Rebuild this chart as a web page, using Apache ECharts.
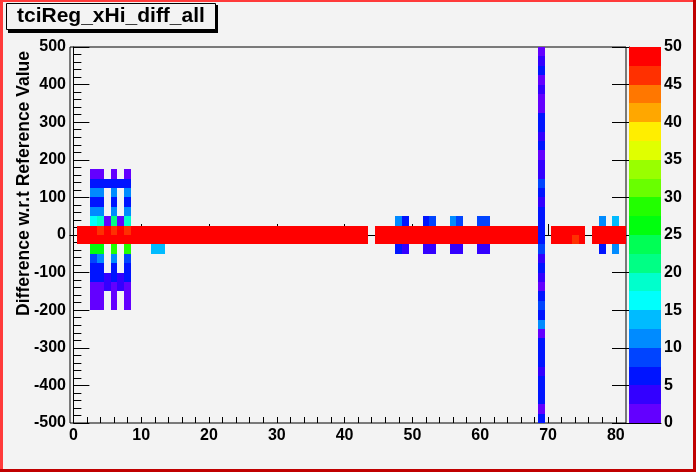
<!DOCTYPE html>
<html><head><meta charset="utf-8">
<script src="https://cdn.jsdelivr.net/npm/echarts@6/dist/echarts.min.js"></script>
<style>html,body{margin:0;padding:0;background:#f3f3f3}#c{width:696px;height:472px}</style>
</head><body><div id="c"></div><script>
// ---------- data ----------
const X_MIN = -0.5, X_MAX = 81.5;      // channel axis (82 bins centred on integers)
const Y_MIN = -500, Y_MAX = 500, Y_BIN = 25;
const Z_MAX = 50, Z_STEP = 2.5;
const xTickValues = [0, 10, 20, 30, 40, 50, 60, 70, 80];
const xMinorTickValues = [0,2,4,6,8,10,12,14,16,18,20,22,24,26,28,30,32,34,36,38,40,42,44,46,48,50,52,54,56,58,60,62,64,66,68,70,72,74,76,78,80];
const zLevels = [0,2.5,5,7.5,10,12.5,15,17.5,20,22.5,25,27.5,30,32.5,35,37.5,40,42.5,45,47.5];
const paletteColors = ['#6300ff','#3300ff','#0014ff','#0044ff','#008bff','#00bbff','#00fffc','#00ffcc','#00ff85','#00ff55',
                       '#00ff0e','#22ff00','#69ff00','#99ff00','#e0ff00','#ffee00','#ffa700','#ff7700','#ff3000','#ff0000'];

// counts in the bin [0,25] for channels 0..81
const bandUpper = [0,50,50,50,46,50,46,50,46,50, 50,50,50,50,50,50,50,50,50,50, 50,50,50,50,50,50,50,50,50,50,
                   50,50,50,50,50,50,50,50,50,50, 50,50,50,50,0,50,50,50,50,50, 50,50,50,50,50,50,50,50,50,50,
                   50,50,50,50,50,50,50,50,50,0, 0,50,50,50,50,50,0,50,50,50, 50,50];
// counts in the bin [-25,0] for channels 0..81
const bandLower = [0,50,50,50,50,50,50,50,50,50, 50,50,50,50,50,50,50,50,50,50, 50,50,50,50,50,50,50,50,50,50,
                   50,50,50,50,50,50,50,50,50,50, 50,50,50,50,0,50,50,50,50,50, 50,50,50,50,50,50,50,50,50,50,
                   50,50,50,50,50,50,50,50,50,0, 0,50,50,50,46,50,0,50,50,50, 50,50];
// channel 69: counts for y bins from -500 (bottom) to 475 (top)
const channel69 = [6,1,6,6,6,4,6,6,6,1, 11,6,9,6,1,4,6,4,9,6, 6,6,6,4,6,9,4,4,1,6, 4,6,6,1,1,4,1,6,4,1];
// [channel, lower y edge, count]
const leftCluster = [
  [3,150,1],[3,125,6],[3,100,11],[3,75,6],[3,50,11],[3,25,16],[3,-50,26],[3,-75,9],[3,-100,6],[3,-125,6],[3,-150,1],[3,-175,1],[3,-200,1],
  [4,150,1],[4,125,6],[4,100,11],[4,75,6],[4,50,11],[4,25,19],[4,-50,26],[4,-75,11],[4,-100,6],[4,-125,6],[4,-150,1],[4,-175,1],[4,-200,1],
  [5,125,6],[5,25,1],[5,-125,4],[5,-150,4],
  [6,150,1],[6,125,6],[6,100,11],[6,75,6],[6,50,11],[6,25,21],[6,-50,28],[6,-75,11],[6,-100,6],[6,-125,6],[6,-150,1],[6,-175,1],[6,-200,1],
  [7,125,6],[7,25,1],[7,-125,4],[7,-150,4],
  [8,150,1],[8,125,6],[8,100,11],[8,75,6],[8,50,11],[8,25,19],[8,-50,29],[8,-75,9],[8,-100,6],[8,-125,6],[8,-150,1],[8,-175,1],[8,-200,1],
  [12,-50,14],[13,-50,14]
];
const midCluster = [
  [48,25,11],[49,25,6],[48,-50,6],[49,-50,4],
  [52,25,6],[53,25,9],[52,-50,4],[53,-50,4],
  [56,25,11],[57,25,9],[56,-50,4],[57,-50,4],
  [60,25,9],[61,25,9],[60,-50,4],[61,-50,4]
];
const rightCluster = [
  [78,25,11],[78,-50,6],[80,25,14],[80,-50,11]
];

// ---------- build ----------
const cells = [];
bandUpper.forEach((v, c) => { if (v > 0) cells.push([c, 0, v]); });
bandLower.forEach((v, c) => { if (v > 0) cells.push([c, -25, v]); });
channel69.forEach((v, i) => { if (v > 0) cells.push([69, Y_MIN + i * Y_BIN, v]); });
leftCluster.concat(midCluster, rightCluster).forEach(d => cells.push(d));

function colorFor(v) {
  let i = Math.floor(v / Z_STEP);
  if (i < 0) i = 0; if (i > paletteColors.length - 1) i = paletteColors.length - 1;
  return paletteColors[i];
}

const FONT = "'Liberation Sans', Arial, Helvetica, sans-serif";
const lbl = { color: '#000', fontFamily: FONT, fontWeight: 'bold', fontSize: 16 };

const chart = echarts.init(document.getElementById('c'), null, { renderer: 'canvas' });
chart.setOption({
  backgroundColor: '#f3f3f3',
  animation: false,
  title: {
    text: 'tciReg_xHi_diff_all',
    left: 6, top: 3,
    padding: [3, 11, 3, 11],
    backgroundColor: '#f3f3f3',
    borderColor: '#000', borderWidth: 1,
    textStyle: { color: '#000', fontFamily: FONT, fontWeight: 'bold', fontSize: 21, lineHeight: 21 },
    z: 10
  },
  graphic: [
    { type: 'rect', z: 1, shape: { x: 8, y: 5, width: 210, height: 28 }, style: { fill: '#000' } },
    { type: 'rect', z: 100, shape: { x: 0, y: 0, width: 696, height: 2 }, style: { fill: '#ff3a3a' } },
    { type: 'rect', z: 100, shape: { x: 0, y: 0, width: 3, height: 472 }, style: { fill: '#ff3a3a' } },
    { type: 'rect', z: 100, shape: { x: 0, y: 469, width: 696, height: 3 }, style: { fill: '#c00000' } },
    { type: 'rect', z: 100, shape: { x: 693, y: 0, width: 3, height: 472 }, style: { fill: '#c00000' } }
  ],
  grid: [
    { left: 70, top: 47, width: 556, height: 376, outerBoundsMode: 'none', containLabel: false,
      show: true, borderColor: '#000', borderWidth: 1, backgroundColor: 'transparent' },
    { left: 629, top: 47, width: 32, height: 376, outerBoundsMode: 'none', containLabel: false, show: false }
  ],
  xAxis: [
    { gridIndex: 0, type: 'value', min: X_MIN, max: X_MAX,
      axisLine: { show: true, lineStyle: { color: '#000', width: 1 } },
      axisTick: { show: true, inside: true, length: 11, customValues: xTickValues, lineStyle: { color: '#000' } },
      axisLabel: Object.assign({ margin: 5, customValues: xTickValues, showMinLabel: true, showMaxLabel: true }, lbl),
      splitLine: { show: false } },
    { gridIndex: 0, type: 'value', min: X_MIN, max: X_MAX, position: 'bottom',
      axisLine: { show: false },
      axisTick: { show: true, inside: true, length: 6, customValues: xMinorTickValues, lineStyle: { color: '#000' } },
      axisLabel: { show: false }, splitLine: { show: false } },
    { gridIndex: 1, type: 'value', min: 0, max: 1, show: true,
      axisLine: { show: true, lineStyle: { color: '#000' } }, axisTick: { show: false }, axisLabel: { show: false }, splitLine: { show: false } }
  ],
  yAxis: [
    { gridIndex: 0, type: 'value', min: Y_MIN, max: Y_MAX, interval: 100,
      name: 'Difference w.r.t Reference Value', nameLocation: 'middle', nameRotate: 90, nameGap: 37, nameMoveOverlap: false,
      nameTextStyle: { color: '#000', fontFamily: FONT, fontWeight: 'bold', fontSize: 17.5, padding: [0, 0, 0, 103] },
      axisLine: { show: true, lineStyle: { color: '#000' } },
      axisTick: { show: true, inside: true, length: 16, lineStyle: { color: '#000' } },
      minorTick: { show: true, splitNumber: 5, length: 8, lineStyle: { color: '#000' } },
      axisLabel: Object.assign({ margin: 4, showMinLabel: true, showMaxLabel: true }, lbl),
      splitLine: { show: false } },
    { gridIndex: 1, type: 'value', min: 0, max: Z_MAX, interval: 5, position: 'right',
      axisLine: { show: true, lineStyle: { color: '#000' } },
      axisTick: { show: true, inside: true, length: 17, lineStyle: { color: '#000' } },
      axisLabel: Object.assign({ margin: 3, showMinLabel: true, showMaxLabel: true }, lbl),
      splitLine: { show: false } }
  ],
  series: [
    { type: 'custom', xAxisIndex: 0, yAxisIndex: 0, clip: true, data: cells, encode: { x: 0, y: 1 },
      renderItem: function (params, api) {
        const x = api.value(0), y = api.value(1), v = api.value(2);
        const a = api.coord([x - 0.5, y + Y_BIN]);
        const b = api.coord([x + 0.5, y]);
        const x0 = Math.round(a[0]), x1 = Math.round(b[0]), y0 = Math.round(a[1]), y1 = Math.round(b[1]);
        return { type: 'rect', shape: { x: x0, y: y0, width: x1 - x0, height: y1 - y0 }, style: { fill: colorFor(v) } };
      } },
    { type: 'custom', xAxisIndex: 2, yAxisIndex: 1, data: zLevels.map((z, i) => [0, z, i]), encode: { x: 0, y: 1 }, z: 1,
      renderItem: function (params, api) {
        const z = api.value(1), i = api.value(2);
        const a = api.coord([0, z + Z_STEP]);
        const b = api.coord([1, z]);
        const y0 = Math.round(a[1]), y1 = Math.round(b[1]);
        return { type: 'rect', shape: { x: a[0], y: y0, width: b[0] - a[0], height: y1 - y0 }, style: { fill: paletteColors[i] } };
      } }
  ]
});
</script></body></html>
